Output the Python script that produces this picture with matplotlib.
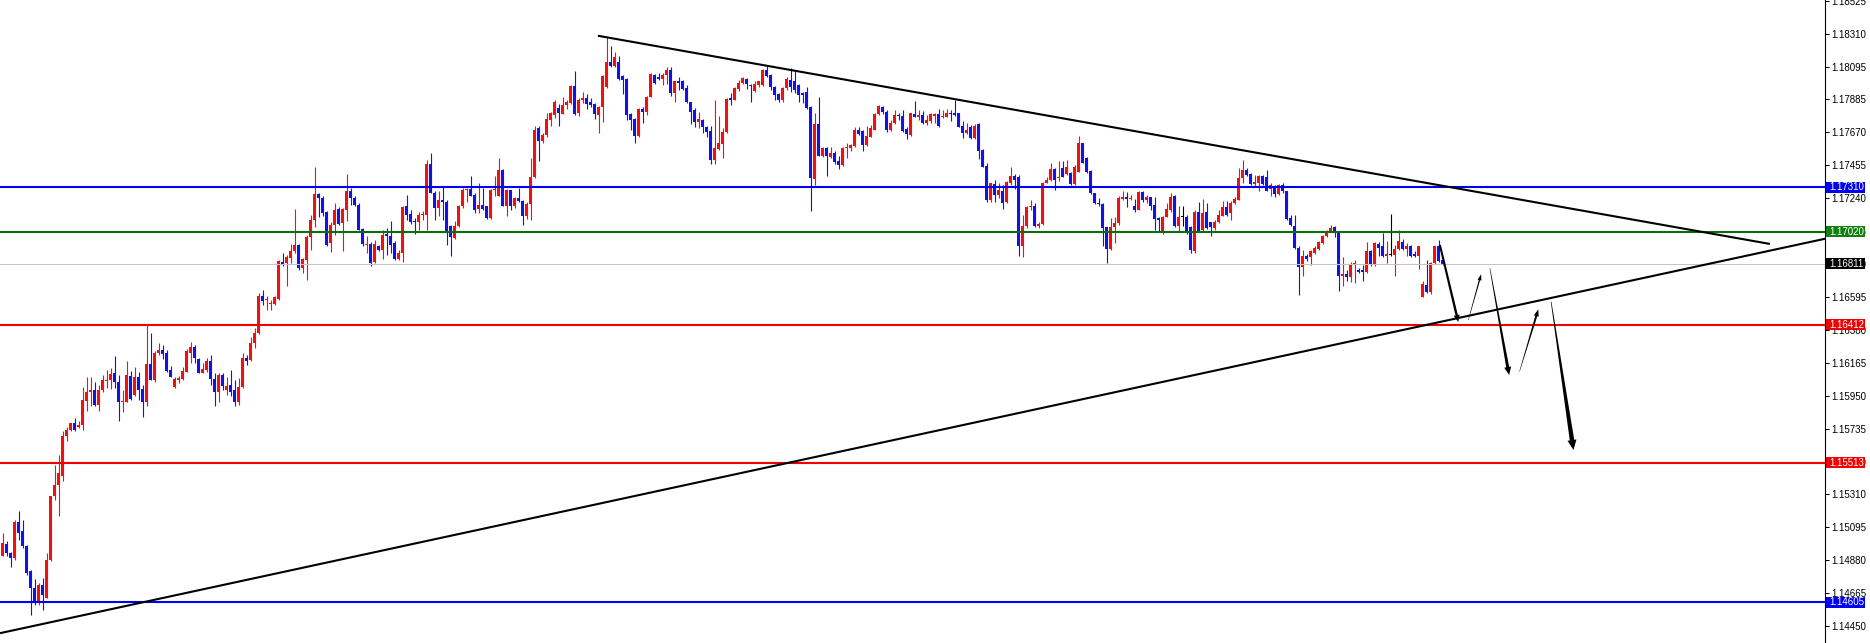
import matplotlib
matplotlib.use("Agg")
import matplotlib.pyplot as plt
from matplotlib.patches import Polygon, Rectangle
from matplotlib.transforms import blended_transform_factory
import numpy as np

# ---------------- data (EURUSD-like candles) ----------------
opens = [
 1.14904,1.14984,1.14926,1.14893,1.15125,1.15067,1.14969,1.14806,1.14698,1.14611,
 1.14715,1.14633,1.14882,1.15295,1.15371,1.15425,1.15685,1.15729,1.15772,1.15750,
 1.15761,1.15918,1.15972,1.15985,1.15891,1.15989,1.16048,1.16050,1.16098,1.16043,
 1.15909,1.15913,1.16080,1.15957,1.16076,1.15993,1.15907,1.16158,1.16050,1.16232,
 1.16249,1.16228,1.16119,1.16006,1.16054,1.16060,1.16108,1.16228,1.16271,1.16189,
 1.16102,1.16119,1.16178,1.16059,1.15978,1.16087,1.15989,1.16022,1.15985,1.15913,
 1.16006,1.16195,1.16184,1.16293,1.16360,1.16598,1.16576,1.16550,1.16550,1.16580,
 1.16822,1.16815,1.16848,1.16891,1.16934,1.16782,1.16837,1.16988,1.17093,1.17264,
 1.17239,1.17146,1.16946,1.17065,1.17167,1.17076,1.17163,1.17282,1.17239,1.17196,
 1.17037,1.16935,1.16942,1.16820,1.16929,1.16903,1.17005,1.16994,1.16946,1.16842,
 1.16881,1.17189,1.17135,1.17087,1.17081,1.17131,1.17131,1.17463,1.17272,1.17174,
 1.17228,1.17215,1.17055,1.16979,1.17055,1.17189,1.17289,1.17298,1.17261,1.17167,
 1.17196,1.17185,1.17109,1.17289,1.17250,1.17423,1.17189,1.17289,1.17185,1.17239,
 1.17217,1.17120,1.17202,1.17376,1.17695,1.17614,1.17651,1.17749,1.17782,1.17825,
 1.17788,1.17847,1.17857,1.17970,1.17792,1.17875,1.17890,1.17862,1.17853,1.17782,
 1.17831,1.17966,1.18129,1.18101,1.18129,1.18035,1.18014,1.17786,1.17753,1.17645,
 1.17818,1.17797,1.17901,1.18042,1.18027,1.18014,1.18042,1.18074,1.17927,1.18005,
 1.17999,1.17955,1.17862,1.17810,1.17732,1.17749,1.17701,1.17673,1.17484,1.17558,
 1.17593,1.17667,1.17890,1.17879,1.17949,1.17988,1.18014,1.17977,1.17940,1.17977,
 1.17977,1.18074,1.18042,1.17966,1.17918,1.17879,1.17955,1.18009,1.17999,1.17977,
 1.17927,1.17933,1.17831,1.17363,1.17723,1.17515,1.17565,1.17506,1.17536,1.17478,
 1.17456,1.17565,1.17565,1.17580,1.17684,1.17673,1.17586,1.17640,1.17684,1.17788,
 1.17831,1.17803,1.17684,1.17727,1.17775,1.17774,1.17687,1.17650,1.17787,1.17769,
 1.17780,1.17726,1.17744,1.17774,1.17787,1.17769,1.17769,1.17796,1.17791,1.17791,
 1.17709,1.17661,1.17704,1.17628,1.17722,1.17553,1.17448,1.17227,1.17331,1.17260,
 1.17288,1.17216,1.17340,1.17383,1.17379,1.16928,1.17058,1.17179,1.17188,1.17058,
 1.17071,1.17340,1.17357,1.17427,1.17368,1.17433,1.17396,1.17405,1.17331,1.17412,
 1.17596,1.17498,1.17418,1.17270,1.17205,1.17201,1.17049,1.16906,1.17053,1.17075,
 1.17232,1.17249,1.17232,1.17188,1.17162,1.17281,1.17227,1.17244,1.17195,1.17108,
 1.17021,1.17118,1.17162,1.17253,1.17058,1.17118,1.17118,1.17053,1.16891,1.17145,
 1.17032,1.17145,1.17080,1.17043,1.17086,1.17123,1.17180,1.17141,1.17205,1.17228,
 1.17369,1.17423,1.17397,1.17332,1.17340,1.17384,1.17379,1.17297,1.17314,1.17266,
 1.17325,1.17282,1.17108,1.17058,1.16913,1.16789,1.16863,1.16858,1.16880,1.16906,
 1.16945,1.16989,1.17021,1.17049,1.17015,1.16733,1.16746,1.16724,1.16804,1.16772,
 1.16772,1.16754,1.16891,1.16804,1.16941,1.16924,1.16863,1.16869,1.16869,1.16906,
 1.16950,1.16906,1.16924,1.16876,1.16863,1.16595,1.16674,1.16624,1.16815,1.16924,
 1.16837]
highs = [
 1.15056,1.15002,1.14930,1.15143,1.15201,1.15143,1.14975,1.14817,1.14757,1.14730,
 1.14763,1.14926,1.15300,1.15501,1.15566,1.15718,1.15750,1.15776,1.15805,1.15783,
 1.16006,1.16072,1.16072,1.16043,1.16022,1.16087,1.16119,1.16130,1.16210,1.16087,
 1.15989,1.16174,1.16115,1.16141,1.16108,1.16022,1.16412,1.16358,1.16239,1.16293,
 1.16282,1.16249,1.16145,1.16076,1.16080,1.16141,1.16254,1.16299,1.16282,1.16195,
 1.16163,1.16195,1.16217,1.16098,1.16102,1.16098,1.16072,1.16119,1.16054,1.16065,
 1.16228,1.16217,1.16336,1.16391,1.16619,1.16641,1.16598,1.16576,1.16598,1.16836,
 1.16880,1.16869,1.16941,1.17166,1.16941,1.16848,1.16999,1.17129,1.17444,1.17275,
 1.17250,1.17152,1.17081,1.17206,1.17180,1.17174,1.17397,1.17304,1.17250,1.17206,
 1.17044,1.16989,1.16950,1.16968,1.16935,1.17029,1.17044,1.17087,1.16957,1.16903,
 1.17189,1.17261,1.17163,1.17109,1.17146,1.17152,1.17489,1.17532,1.17283,1.17283,
 1.17308,1.17228,1.17065,1.17087,1.17196,1.17304,1.17304,1.17380,1.17272,1.17337,
 1.17304,1.17189,1.17295,1.17380,1.17499,1.17428,1.17298,1.17293,1.17243,1.17304,
 1.17228,1.17211,1.17499,1.17706,1.17706,1.17662,1.17792,1.17803,1.17875,1.17853,
 1.17901,1.17879,1.17977,1.18070,1.17890,1.17933,1.17918,1.17890,1.17857,1.17836,
 1.18040,1.18291,1.18231,1.18194,1.18166,1.18042,1.18020,1.17792,1.17760,1.17825,
 1.17831,1.17905,1.18057,1.18048,1.18053,1.18053,1.18096,1.18096,1.18005,1.18027,
 1.18009,1.17977,1.17868,1.17825,1.17803,1.17753,1.17710,1.17710,1.17879,1.17771,
 1.17695,1.17890,1.17923,1.17966,1.18009,1.18031,1.18020,1.17980,1.17999,1.18005,
 1.18079,1.18107,1.18048,1.17970,1.17927,1.17966,1.18027,1.18090,1.18064,1.17983,
 1.17933,1.17966,1.17840,1.17792,1.17897,1.17575,1.17575,1.17575,1.17543,1.17510,
 1.17575,1.17597,1.17593,1.17701,1.17701,1.17684,1.17706,1.17716,1.17792,1.17847,
 1.17840,1.17810,1.17749,1.17814,1.17792,1.17813,1.17700,1.17795,1.17874,1.17813,
 1.17809,1.17780,1.17791,1.17791,1.17817,1.17813,1.17817,1.17813,1.17878,1.17796,
 1.17744,1.17730,1.17715,1.17722,1.17726,1.17557,1.17470,1.17340,1.17357,1.17335,
 1.17325,1.17350,1.17444,1.17396,1.17390,1.17129,1.17188,1.17227,1.17205,1.17080,
 1.17346,1.17375,1.17470,1.17433,1.17483,1.17483,1.17487,1.17412,1.17455,1.17644,
 1.17600,1.17505,1.17423,1.17275,1.17238,1.17205,1.17053,1.17108,1.17118,1.17253,
 1.17288,1.17281,1.17260,1.17231,1.17288,1.17288,1.17260,1.17249,1.17249,1.17118,
 1.17123,1.17205,1.17275,1.17260,1.17188,1.17188,1.17129,1.17058,1.17162,1.17216,
 1.17231,1.17205,1.17086,1.17097,1.17162,1.17217,1.17217,1.17217,1.17245,1.17434,
 1.17488,1.17434,1.17401,1.17390,1.17390,1.17390,1.17423,1.17340,1.17325,1.17332,
 1.17340,1.17288,1.17130,1.17130,1.16924,1.16902,1.16876,1.16902,1.16924,1.16957,
 1.17000,1.17032,1.17065,1.17054,1.17021,1.16854,1.16768,1.16820,1.16837,1.16783,
 1.16804,1.16950,1.16898,1.16950,1.16950,1.17010,1.16956,1.17136,1.16930,1.17028,
 1.16971,1.16945,1.16935,1.16891,1.16928,1.16696,1.16837,1.16820,1.16928,1.16967,
 1.16854]
lows = [
 1.14904,1.14904,1.14832,1.14882,1.15013,1.14958,1.14785,1.14524,1.14589,1.14589,
 1.14557,1.14630,1.14875,1.15273,1.15164,1.15392,1.15653,1.15718,1.15724,1.15740,
 1.15729,1.15848,1.15881,1.15885,1.15848,1.15978,1.16000,1.15993,1.16000,1.15783,
 1.15842,1.15910,1.15924,1.15946,1.15924,1.15811,1.15885,1.16050,1.16043,1.16217,
 1.16189,1.16108,1.16072,1.16000,1.16032,1.16054,1.16105,1.16163,1.16163,1.16098,
 1.16098,1.16108,1.16022,1.15885,1.15913,1.15990,1.15957,1.15946,1.15885,1.15891,
 1.16000,1.16152,1.16180,1.16260,1.16350,1.16543,1.16507,1.16511,1.16543,1.16576,
 1.16793,1.16663,1.16815,1.16880,1.16771,1.16750,1.16706,1.16901,1.17053,1.17114,
 1.17120,1.16924,1.16885,1.17000,1.17065,1.16892,1.17087,1.17196,1.17185,1.17029,
 1.16924,1.16881,1.16794,1.16816,1.16892,1.16842,1.16870,1.16881,1.16838,1.16838,
 1.16820,1.17098,1.17072,1.17007,1.17029,1.17098,1.17029,1.17270,1.17098,1.17120,
 1.17098,1.16935,1.16864,1.16975,1.17050,1.17174,1.17211,1.17250,1.17141,1.17141,
 1.17163,1.17102,1.17102,1.17250,1.17250,1.17185,1.17124,1.17163,1.17174,1.17211,
 1.17065,1.17102,1.17094,1.17370,1.17478,1.17597,1.17640,1.17710,1.17760,1.17710,
 1.17785,1.17818,1.17853,1.17782,1.17771,1.17857,1.17818,1.17831,1.17753,1.17662,
 1.17732,1.17955,1.18096,1.18092,1.18009,1.17918,1.17745,1.17680,1.17601,1.17640,
 1.17727,1.17782,1.17897,1.17983,1.18009,1.17977,1.17983,1.17905,1.17868,1.17944,
 1.17944,1.17857,1.17723,1.17701,1.17695,1.17662,1.17640,1.17463,1.17463,1.17554,
 1.17499,1.17662,1.17847,1.17875,1.17940,1.17983,1.17949,1.17868,1.17933,1.17966,
 1.17970,1.18027,1.17944,1.17879,1.17868,1.17862,1.17944,1.17933,1.17927,1.17868,
 1.17857,1.17820,1.17152,1.17326,1.17510,1.17506,1.17384,1.17499,1.17463,1.17428,
 1.17450,1.17499,1.17549,1.17575,1.17651,1.17549,1.17580,1.17636,1.17680,1.17782,
 1.17788,1.17667,1.17673,1.17723,1.17749,1.17672,1.17622,1.17645,1.17765,1.17748,
 1.17722,1.17715,1.17730,1.17730,1.17704,1.17759,1.17765,1.17744,1.17774,1.17700,
 1.17628,1.17657,1.17622,1.17622,1.17492,1.17440,1.17216,1.17216,1.17216,1.17238,
 1.17166,1.17210,1.17325,1.17296,1.16862,1.16854,1.17043,1.17162,1.17049,1.17043,
 1.17064,1.17335,1.17353,1.17292,1.17353,1.17375,1.17390,1.17325,1.17325,1.17410,
 1.17466,1.17405,1.17266,1.17201,1.17188,1.16928,1.16815,1.16900,1.16945,1.17064,
 1.17227,1.17179,1.17227,1.17145,1.17158,1.17216,1.17205,1.17158,1.17032,1.17021,
 1.17006,1.17114,1.17151,1.17053,1.17015,1.17058,1.17006,1.16884,1.16884,1.17021,
 1.17027,1.17040,1.16993,1.17032,1.17075,1.17119,1.17123,1.17097,1.17201,1.17225,
 1.17336,1.17384,1.17325,1.17318,1.17288,1.17325,1.17282,1.17253,1.17249,1.17260,
 1.17275,1.17097,1.17054,1.16906,1.16609,1.16728,1.16832,1.16804,1.16876,1.16902,
 1.16941,1.16984,1.17015,1.16984,1.16631,1.16668,1.16696,1.16689,1.16685,1.16750,
 1.16696,1.16750,1.16793,1.16793,1.16863,1.16854,1.16815,1.16863,1.16728,1.16902,
 1.16902,1.16863,1.16854,1.16858,1.16776,1.16594,1.16620,1.16615,1.16810,1.16820,
 1.16804]
closes = [
 1.14991,1.14926,1.14893,1.15125,1.15056,1.14969,1.14796,1.14698,1.14611,1.14715,
 1.14655,1.14882,1.15295,1.15371,1.15447,1.15685,1.15729,1.15772,1.15729,1.15761,
 1.15924,1.15972,1.15985,1.15891,1.15989,1.16050,1.16054,1.16093,1.16037,1.15907,
 1.15913,1.16087,1.15928,1.16076,1.15989,1.15907,1.16158,1.16054,1.16232,1.16249,
 1.16221,1.16115,1.16076,1.16059,1.16065,1.16113,1.16245,1.16271,1.16195,1.16102,
 1.16124,1.16174,1.16059,1.15978,1.16087,1.16015,1.16015,1.15978,1.15913,1.16006,
 1.16195,1.16180,1.16293,1.16358,1.16598,1.16565,1.16580,1.16554,1.16591,1.16826,
 1.16804,1.16858,1.16895,1.16934,1.16782,1.16841,1.16988,1.17097,1.17264,1.17238,
 1.17141,1.16935,1.17065,1.17163,1.17072,1.17167,1.17282,1.17239,1.17196,1.17033,
 1.16942,1.16942,1.16816,1.16942,1.16903,1.17000,1.16989,1.16935,1.16842,1.16881,
 1.17180,1.17131,1.17081,1.17083,1.17131,1.17135,1.17463,1.17272,1.17174,1.17228,
 1.17211,1.17011,1.16985,1.17059,1.17189,1.17293,1.17298,1.17254,1.17163,1.17196,
 1.17167,1.17109,1.17293,1.17298,1.17423,1.17189,1.17289,1.17189,1.17239,1.17217,
 1.17120,1.17202,1.17376,1.17684,1.17614,1.17651,1.17753,1.17792,1.17868,1.17792,
 1.17847,1.17862,1.17970,1.17788,1.17879,1.17890,1.17853,1.17847,1.17788,1.17831,
 1.18035,1.18129,1.18101,1.18161,1.18014,1.18009,1.17782,1.17745,1.17645,1.17818,
 1.17797,1.17901,1.18048,1.17988,1.18016,1.18042,1.18074,1.17927,1.17999,1.17992,
 1.17949,1.17862,1.17803,1.17738,1.17753,1.17701,1.17667,1.17484,1.17565,1.17597,
 1.17667,1.17884,1.17875,1.17955,1.17992,1.18020,1.17983,1.17970,1.17983,1.18003,
 1.18074,1.18035,1.17966,1.17912,1.17875,1.17955,1.18014,1.17966,1.17944,1.17912,
 1.17912,1.17825,1.17369,1.17723,1.17515,1.17565,1.17510,1.17536,1.17471,1.17456,
 1.17565,1.17571,1.17586,1.17684,1.17658,1.17586,1.17645,1.17695,1.17788,1.17840,
 1.17797,1.17684,1.17727,1.17782,1.17771,1.17678,1.17657,1.17791,1.17769,1.17780,
 1.17726,1.17748,1.17787,1.17787,1.17709,1.17774,1.17796,1.17787,1.17780,1.17704,
 1.17665,1.17683,1.17628,1.17709,1.17548,1.17444,1.17227,1.17335,1.17260,1.17292,
 1.17210,1.17346,1.17383,1.17357,1.16928,1.17058,1.17179,1.17188,1.17058,1.17071,
 1.17340,1.17357,1.17427,1.17357,1.17379,1.17379,1.17444,1.17331,1.17444,1.17596,
 1.17470,1.17412,1.17270,1.17205,1.17201,1.17043,1.16906,1.17053,1.17075,1.17238,
 1.17249,1.17232,1.17238,1.17162,1.17281,1.17227,1.17244,1.17188,1.17101,1.17093,
 1.17118,1.17166,1.17249,1.17058,1.17118,1.17118,1.17010,1.16901,1.17151,1.17027,
 1.17140,1.17043,1.17053,1.17086,1.17129,1.17180,1.17130,1.17210,1.17232,1.17369,
 1.17423,1.17390,1.17332,1.17347,1.17384,1.17332,1.17288,1.17325,1.17266,1.17325,
 1.17282,1.17102,1.17065,1.16913,1.16789,1.16863,1.16841,1.16891,1.16913,1.16950,
 1.16993,1.17021,1.17043,1.17015,1.16733,1.16746,1.16724,1.16811,1.16815,1.16754,
 1.16754,1.16891,1.16804,1.16945,1.16913,1.16863,1.16876,1.16869,1.16906,1.16956,
 1.16906,1.16924,1.16863,1.16863,1.16924,1.16680,1.16624,1.16815,1.16924,1.16826,
 1.16811]

# horizontal levels and their right-axis tags
level_values = [1.17310, 1.17020, 1.16811, 1.16412, 1.15513, 1.14605]
level_labels = ["1.17310", "1.17020", "1.16811", "1.16412", "1.15513", "1.14605"]

# right-axis scale labels
tick_values = [1.18525, 1.18310, 1.18095, 1.17885, 1.17670, 1.17455, 1.17240,
               1.17025, 1.16810, 1.16595, 1.16380, 1.16165, 1.15950, 1.15735,
               1.15520, 1.15310, 1.15095, 1.14880, 1.14665, 1.14450]

# trend lines (bar index, price)
trend_down_x = [148.8, 441.8]
trend_down_y = [1.18297, 1.16940]
trend_up_x = [-0.675, 455.6]
trend_up_y = [1.14403, 1.16974]

# forecast arrows (bar index, price): start -> end
arrow_x0 = [359.3, 366.4, 371.8, 379.2, 387.1]
arrow_y0 = [1.16933, 1.16444, 1.16781, 1.16108, 1.16564]
arrow_x1 = [363.9, 369.6, 376.6, 383.9, 392.7]
arrow_y1 = [1.16431, 1.16742, 1.16086, 1.16514, 1.15597]

# ---------------- styling ----------------
W, H, DPI = 1870, 643, 100
AX_W_PX = 1825
PX_PER_BAR = 4.0
X0 = -0.675
Y_TOP, Y_BOT = 1.18530, 1.14339

RED = "#EE1111"
BLUE = "#1212E6"
level_colors = ["#0000F0", "#0A6E0A", "#C4C4C4", "#F00000", "#F00000", "#0000F0"]
level_lw = [1.5, 1.5, 0.75, 1.5, 1.5, 1.5]
tag_colors = ["#0000F0", "#118011", "#000000", "#F00000", "#F00000", "#0000F0"]

plt.rcParams['font.family'] = ['Liberation Sans', 'DejaVu Sans']

fig = plt.figure(figsize=(W / DPI, H / DPI), dpi=DPI)
fig.patch.set_facecolor("white")
ax = fig.add_axes([0, 0, AX_W_PX / W, 1])
ax.set_facecolor("white")
ax.set_xlim(X0, X0 + AX_W_PX / PX_PER_BAR)
ax.set_ylim(Y_BOT, Y_TOP)

o = np.array(opens); h = np.array(highs); l = np.array(lows); c = np.array(closes)
n = len(c)
xs = np.arange(n)
cols = np.where(c > o, RED, np.where(c < o, BLUE, "#000000"))

px_price = (Y_TOP - Y_BOT) / H
ax.vlines(xs, l, h, colors=cols, linewidth=0.8, zorder=2)
body_lo = np.minimum(o, c)
body_h = np.maximum(np.abs(c - o), px_price)
ax.bar(xs, body_h, bottom=body_lo, width=0.75, color=cols, linewidth=0, zorder=3)

for v, col, lw in zip(level_values, level_colors, level_lw):
    ax.axhline(v, color=col, linewidth=lw, zorder=4)

ax.plot(trend_down_x, trend_down_y, color="black", linewidth=1.5, zorder=5,
        solid_capstyle="butt")
ax.plot(trend_up_x, trend_up_y, color="black", linewidth=1.5, zorder=5,
        solid_capstyle="butt")

# tapered arrows (computed in pixel space, converted back to data space)
arrow_style = [  # tail width, shaft width near head, head length, head half width (px)
    (2.0, 2.4, 7, 3.0),
    (0.4, 1.3, 6, 2.0),
    (0.5, 3.0, 8, 3.5),
    (0.4, 2.0, 7, 2.5),
    (0.6, 4.5, 10, 4.5),
]
fig.canvas.draw()
inv = ax.transData.inverted()
for (xa, ya, xb, yb), (w0, w1, hl, hw) in zip(
        zip(arrow_x0, arrow_y0, arrow_x1, arrow_y1), arrow_style):
    p0 = ax.transData.transform((xa, ya))
    p1 = ax.transData.transform((xb, yb))
    d = p1 - p0
    u = d / np.hypot(*d)
    nrm = np.array([-u[1], u[0]])
    base = p1 - u * hl
    pts = [p0 + nrm * w0 / 2, base + nrm * w1 / 2, base + nrm * hw, p1,
           base - nrm * hw, base - nrm * w1 / 2, p0 - nrm * w0 / 2]
    pts = inv.transform(np.array(pts))
    ax.add_patch(Polygon(pts, closed=True, facecolor="black", edgecolor="none",
                         zorder=6))

# axes / ticks
for s in ["left", "top", "bottom"]:
    ax.spines[s].set_visible(False)
ax.spines["right"].set_linewidth(0.8)
ax.spines["right"].set_color("black")
ax.set_xticks([])
ax.yaxis.tick_right()
ax.set_yticks(tick_values)
ax.set_yticklabels([f"{v:.5f}" for v in tick_values])
ax.tick_params(axis="y", direction="out", length=3, width=0.75, pad=1.8,
               labelsize=7, colors="black")

# price tags on the axis
trans = blended_transform_factory(ax.transAxes, ax.transData)
tag_w = 39 / AX_W_PX
tag_h = 11 * px_price
for v, txt, col in zip(level_values, level_labels, tag_colors):
    ax.add_patch(Rectangle((1.0 + 1.0 / AX_W_PX, v - tag_h / 2), tag_w, tag_h,
                           transform=trans, facecolor=col, edgecolor="none",
                           clip_on=False, zorder=10))
    ax.text(1.0 + 4.5 / AX_W_PX, v, txt, transform=trans, ha="left",
            va="center", fontsize=7, color="white", clip_on=False, zorder=11)

fig.savefig("out.png", dpi=DPI, facecolor="white")
